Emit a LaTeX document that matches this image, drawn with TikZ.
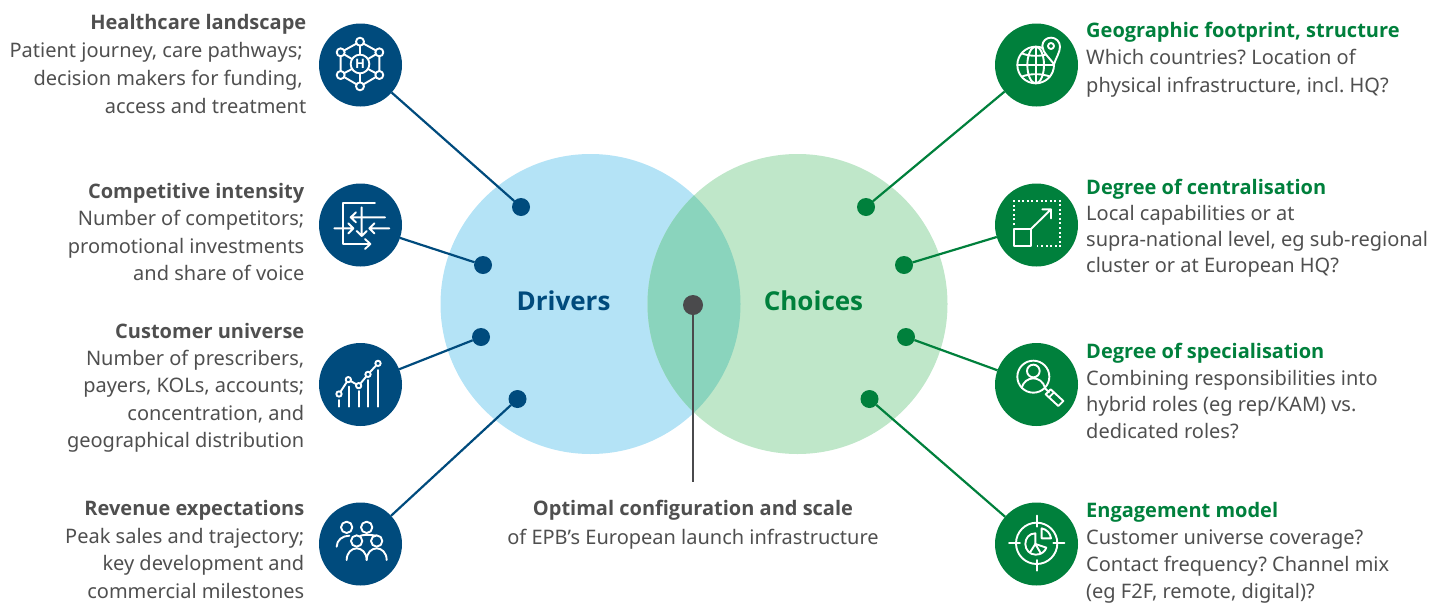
\documentclass[tikz,border=0pt]{standalone}
\usepackage{fontspec}
\setmainfont{Noto Sans}
\newfontfamily\hdfont{Open Sans}
\frenchspacing
\definecolor{dblue}{HTML}{004B7D}
\definecolor{dgreen}{HTML}{00803C}
\definecolor{lblue}{HTML}{B4E3F6}
\definecolor{lgreen}{HTML}{BFE7C9}
\definecolor{overlap}{HTML}{8AD4BD}
\definecolor{greytxt}{HTML}{4F4F4F}
\definecolor{darkdot}{HTML}{4A4A4C}
\tikzset{
  iconblue/.style={circle,fill=dblue,minimum size=83pt,inner sep=0pt,outer sep=0pt},
  icongreen/.style={circle,fill=dgreen,minimum size=83pt,inner sep=0pt,outer sep=0pt},
  dotblue/.style={circle,fill=dblue,minimum size=18pt,inner sep=0pt,outer sep=0pt},
  dotgreen/.style={circle,fill=dgreen,minimum size=18pt,inner sep=0pt,outer sep=0pt},
  linkblue/.style={draw=dblue,line width=2.2pt},
  linkgreen/.style={draw=dgreen,line width=2.2pt},
  lefttxt/.style={anchor=east,align=right,inner sep=0pt,text=greytxt,font=\fontsize{20}{27.6}\selectfont},
  righttxt/.style={anchor=west,align=left,inner sep=0pt,text=greytxt,font=\fontsize{20}{27.6}\selectfont},
  midtxt/.style={anchor=center,align=center,inner sep=0pt,text=greytxt,font=\fontsize{20}{29}\selectfont},
  biglabel/.style={anchor=center,inner sep=0pt,font=\fontsize{26}{30}\selectfont\hdfont\bfseries},
  ico/.style={draw=white,line width=1.9pt,line cap=round,line join=round},
  icoscale/.style={x=0.33333pt,y=-0.33333pt}
}
\newcommand{\ttl}[1]{{\hdfont\bfseries #1}}
\begin{document}
\begin{tikzpicture}[x=1pt,y=-1pt]
\useasboundingbox (0,0) rectangle (1446,603);
% Venn
\fill[lblue] (590.5,304) circle (150pt);
\fill[lgreen] (797.5,304) circle (150pt);
\begin{scope}
  \clip (590.5,304) circle (150pt);
  \fill[overlap] (797.5,304) circle (150pt);
\end{scope}
\node[biglabel,text=dblue] (drv) at (563.5,301) {Drivers};
\node[biglabel,text=dgreen] (chc) at (813.5,301) {Choices};
% Icon discs
\node[iconblue] (a1) at (360.5,65) {};
\node[iconblue] (a2) at (360.5,225) {};
\node[iconblue] (a3) at (360.5,384.5) {};
\node[iconblue] (a4) at (360.5,544) {};
\node[icongreen] (b1) at (1036.5,65) {};
\node[icongreen] (b2) at (1036.5,225) {};
\node[icongreen] (b3) at (1036.5,384.5) {};
\node[icongreen] (b4) at (1036.5,544) {};
% Dots
\node[dotblue] (p1) at (521,207) {};
\node[dotblue] (p2) at (483,265) {};
\node[dotblue] (p3) at (481,337) {};
\node[dotblue] (p4) at (517.5,399) {};
\node[dotgreen] (q1) at (866,207) {};
\node[dotgreen] (q2) at (904,265) {};
\node[dotgreen] (q3) at (906,337) {};
\node[dotgreen] (q4) at (869.5,399) {};
\node[circle,fill=darkdot,minimum size=20pt,inner sep=0pt,outer sep=0pt] (c0) at (693,305) {};
\coordinate (c1) at (693,482);
% Connectors
\draw[linkblue] (a1) -- (p1);
\draw[linkblue] (a2) -- (p2);
\draw[linkblue] (a3) -- (p3);
\draw[linkblue] (a4) -- (p4);
\draw[linkgreen] (b1) -- (q1);
\draw[linkgreen] (b2) -- (q2);
\draw[linkgreen] (b3) -- (q3);
\draw[linkgreen] (b4) -- (q4);
\draw[draw=darkdot,line width=2.2pt] (c0) -- (c1);
% Left text
\node[lefttxt,font=\fontsize{20}{28}\selectfont] (t1) at (306.5,64) {\ttl{Healthcare landscape}\\Patient journey, care pathways;\kern3.5pt\relax\\decision makers for funding,\kern3.5pt\relax\\access and treatment};
\node[lefttxt] (t2) at (304.5,232) {\ttl{Competitive intensity}\\Number of competitors;\\promotional investments\\and share of voice};
\node[lefttxt,font=\fontsize{20}{27.3}\selectfont] (t3) at (304.5,387.5) {\ttl{Customer universe}\\Number of prescribers,\\payers, KOLs, accounts;\\concentration, and\\geographical distribution};
\node[lefttxt] (t4) at (304.5,549.5) {\ttl{Revenue expectations}\\Peak sales and trajectory;\\key development and\\commercial milestones};
% Right text
\node[righttxt] (r1) at (1086,59.5) {\textcolor{dgreen}{\ttl{Geographic footprint, structure}}\\Which countries? Location of\\physical infrastructure, incl. HQ?};
\node[righttxt,font=\fontsize{20}{26}\selectfont] (r2) at (1086,228.5) {\textcolor{dgreen}{\ttl{Degree of centralisation}}\\Local capabilities or at\\supra-national level, eg sub-regional\\cluster or at European HQ?};
\node[righttxt,font=\fontsize{20}{26.7}\selectfont] (r3) at (1086,391) {\textcolor{dgreen}{\ttl{Degree of specialisation}}\\Combining responsibilities into\\hybrid roles (eg rep/KAM) vs.\\dedicated roles?};
\node[righttxt,font=\fontsize{20}{27}\selectfont] (r4) at (1086,553) {\textcolor{dgreen}{\ttl{Engagement model}}\\Customer universe coverage?\\Contact frequency? Channel mix\\(eg F2F, remote, digital)?};
\node[midtxt] (m) at (693,525) {\ttl{Optimal configuration and scale}\\of EPB’s European launch infrastructure};
% Icon 1
\begin{scope}[shift={(310,15)},icoscale]
  \draw[ico] (150,80) -- (208,112) -- (208,180) -- (150,214) -- (92,180) -- (92,112) -- cycle;
  \draw[ico] (150,80) -- (150,119) (150,175) -- (150,214) (92,112) -- (126,132) (208,112) -- (174,132) (92,180) -- (126,162) (208,180) -- (174,162);
  \foreach \px/\py in {150/80,208/112,208/180,150/214,92/180,92/112}
    \draw[ico,fill=dblue] (\px,\py) circle (12);
  \draw[ico,fill=dblue] (150,147) circle (28);
  \node[text=white,inner sep=0pt,font=\fontsize{13}{13}\selectfont\hdfont\bfseries] (hh) at (150,147) {H};
\end{scope}
% Icon 2
\begin{scope}[shift={(310,175)},icoscale]
  \draw[ico] (195,84) -- (100,84) -- (100,207) -- (180,207);
  \draw[ico] (165,192) -- (181,207) -- (165,222);
  \draw[ico] (225,127) -- (122,127) (138,112) -- (122,127) -- (138,142);
  \draw[ico] (155,97) -- (155,183) (140,168) -- (155,183) -- (170,168);
  \draw[ico] (73,160) -- (130,160) (115,145) -- (130,160) -- (115,175);
  \draw[ico] (238,160) -- (178,160) (193,145) -- (178,160) -- (193,175);
\end{scope}
% Icon 3
\begin{scope}[shift={(310,335)},icoscale]
  \draw[ico] (88,195) -- (88,215) (116,155) -- (116,215) (146,168) -- (146,215) (175,135) -- (175,215) (204,105) -- (204,215);
  \draw[ico] (87,177) -- (115,134) -- (146,152) -- (174,118) -- (204,85);
  \foreach \px/\py in {87/177,115/134,146/152,174/118,204/85}
    \draw[ico,fill=dblue] (\px,\py) circle (8);
\end{scope}
% Icon 4
\begin{scope}[shift={(310,495)},icoscale]
  \draw[ico] (110,97) circle (17);
  \draw[ico] (170,97) circle (17);
  \draw[ico] (140,138) circle (17);
  \draw[ico] (200,138) circle (17);
  \draw[ico] (80,155) .. controls (80,135) and (98,122) .. (118,122);
  \draw[ico] (150,123) .. controls (157,119) and (180,118) .. (197,122);
  \draw[ico] (110,195) .. controls (110,173) and (125,160) .. (140,160) .. controls (155,160) and (170,173) .. (170,195);
  \draw[ico] (170,195) .. controls (170,173) and (185,160) .. (200,160) .. controls (215,160) and (230,173) .. (230,195);
\end{scope}
% Icon 5
\begin{scope}[shift={(985,15)},icoscale]
  \draw[ico] (152,150) circle (55);
  \draw[ico] (152,150) ellipse (25 and 55);
  \draw[ico] (152,95) -- (152,205) (97,150) -- (207,150);
  \draw[ico] (110,115) .. controls (135,125) and (170,125) .. (195,115);
  \draw[ico] (110,185) .. controls (135,175) and (170,175) .. (195,185);
  \draw[ico,fill=dgreen] (207,148) .. controls (195,130) and (172,112) .. (172,93) .. controls (172,78) and (184,68) .. (198,68) .. controls (213,68) and (225,80) .. (225,95) .. controls (225,112) and (212,130) .. (207,148) -- cycle;
  \draw[ico] (198,93) circle (9);
\end{scope}
% Icon 6
\begin{scope}[shift={(985,175)},icoscale]
  \draw[white,line width=2pt,dash pattern=on 2pt off 2.6pt] (88,150) -- (88,77) -- (226,77) -- (226,214) -- (155,214);
  \draw[ico] (88,162) rectangle (138,214);
  \draw[ico] (138,162) -- (198,103) (172,103) -- (198,103) -- (198,130);
\end{scope}
% Icon 7
\begin{scope}[shift={(985,335)},icoscale]
  \draw[ico] (145,125) circle (48);
  \draw[ico] (145,108) circle (19);
  \draw[ico] (110,158) .. controls (115,140) and (130,130) .. (145,130) .. controls (160,130) and (175,140) .. (180,158);
  \draw[ico] (179,159) -- (192,172);
  \draw[ico] (182,178) -- (197,163) -- (235,198) -- (220,213) -- cycle;
  \draw[ico] (192,187) -- (207,172);
\end{scope}
% Icon 8
\begin{scope}[shift={(985,495)},icoscale]
  \draw[ico] (155,145) circle (62);
  \draw[ico] (155,62) -- (155,95) (155,195) -- (155,227) (72,145) -- (105,145) (205,145) -- (238,145);
  \draw[ico] (151,115) .. controls (132,115) and (121,130) .. (121,147) .. controls (121,165) and (135,179) .. (152,179) .. controls (168,179) and (180,170) .. (184,158) -- (151,147) -- cycle;
  \draw[ico] (151,147) -- (135,172) (151,147) -- (168,176);
  \draw[ico] (170,100) .. controls (185,103) and (196,115) .. (198,130) -- (170,130) -- cycle;
\end{scope}
\end{tikzpicture}
\end{document}
